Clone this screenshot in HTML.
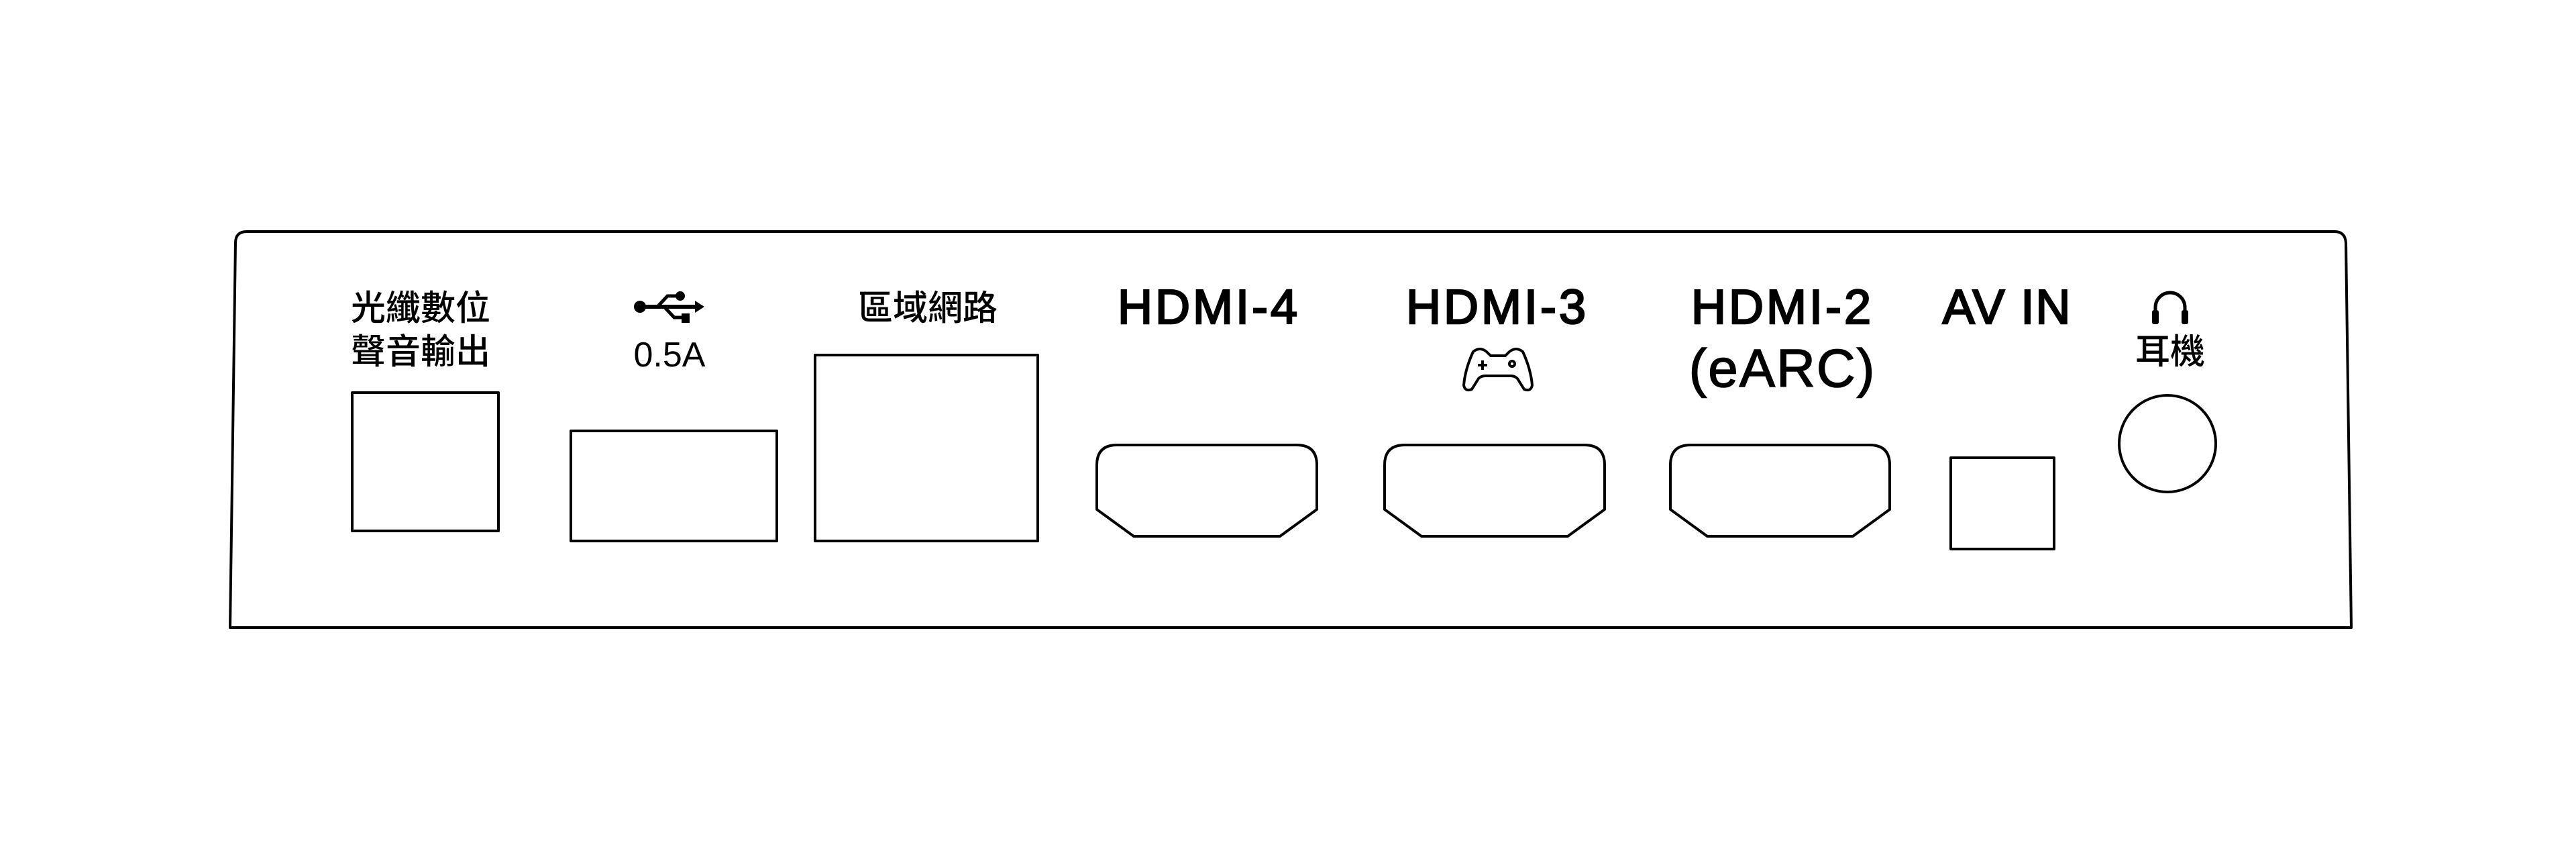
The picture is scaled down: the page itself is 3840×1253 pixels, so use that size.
<!DOCTYPE html>
<html><head><meta charset="utf-8"><style>
html,body{margin:0;padding:0;background:#fff;}
svg{display:block;}
.l{font-family:"Liberation Sans",sans-serif;font-weight:normal;font-size:72px;fill:#000;stroke:#000;stroke-width:2.5px;}
.c{font-family:"Liberation Sans","Noto Sans CJK TC",sans-serif;font-weight:500;font-size:52px;fill:#000;}
</style></head><body>
<svg width="3840" height="1253" viewBox="0 0 3840 1253" xmlns="http://www.w3.org/2000/svg">
<rect width="3840" height="1253" fill="#fff"/>
<g fill="none" stroke="#000" stroke-width="4" stroke-linejoin="round">
<path d="M343,935 L351,362 Q351,345 368,345 L3480,345 Q3496,345 3497,362 L3505,935 Z"/>
<rect x="525" y="585" width="218" height="206"/>
<rect x="851" y="642" width="307" height="164"/>
<rect x="1215" y="529" width="332" height="277"/>
<path d="M1665,663 H1933 Q1963,663 1963,693 V759 L1908,799 H1690 L1635,759 V693 Q1635,663 1665,663 Z"/>
<path d="M2094,663 H2362 Q2392,663 2392,693 V759 L2337,799 H2119 L2064,759 V693 Q2064,663 2094,663 Z"/>
<path d="M2520,663 H2787 Q2817,663 2817,693 V759 L2762,799 H2545 L2490,759 V693 Q2490,663 2520,663 Z"/>
<rect x="2908" y="682" width="154" height="136"/>
<circle cx="3231" cy="661" r="72"/>
</g>
<text class="c" x="627" y="477" text-anchor="middle">光纖數位</text>
<text class="c" x="627" y="542" text-anchor="middle">聲音輸出</text>
<text class="c" x="1383" y="477" text-anchor="middle">區域網路</text>
<text class="c" x="3235" y="542" text-anchor="middle">耳機</text>
<text style="font-family:'Liberation Sans',sans-serif;font-size:52px;fill:#000" x="998" y="546" text-anchor="middle">0.5A</text>
<text class="l" x="1802" y="482" text-anchor="middle" letter-spacing="4">HDMI-4</text>
<text class="l" x="2232" y="482" text-anchor="middle" letter-spacing="4">HDMI-3</text>
<text class="l" x="2657" y="482" text-anchor="middle" letter-spacing="4">HDMI-2</text>
<text style="font-family:'Liberation Sans',sans-serif;font-size:80px;fill:#000;stroke:#000;stroke-width:1.5px" x="2657" y="576" text-anchor="middle" letter-spacing="2">(eARC)</text>
<text class="l" x="2992" y="482" text-anchor="middle" letter-spacing="2">AV IN</text>
<g fill="#000" stroke="#000">
<circle cx="954" cy="457" r="9" stroke="none"/>
<line x1="954" y1="457" x2="1040" y2="457" stroke-width="6"/>
<polygon points="1050,457 1036,448 1036,466" stroke="none"/>
<polyline points="980,457 995,441 1012,441" fill="none" stroke-width="5"/>
<circle cx="1014" cy="441" r="7" stroke="none"/>
<polyline points="990,457 1005,473 1020,473" fill="none" stroke-width="5"/>
<rect x="1016" y="467" width="12" height="14" stroke="none"/>
</g>
<g fill="none" stroke="#000" stroke-width="4" stroke-linejoin="round">
<path d="M2196,524 Q2206,516 2216,524 L2222,530 H2244 L2250,524 Q2260,516 2270,524 Q2282,550 2284,574 Q2282,584 2272,580 L2262,564 Q2258,560 2252,560 H2214 Q2208,560 2204,564 L2194,580 Q2184,584 2182,574 Q2184,550 2196,524 Z"/>
<line x1="2203" y1="544" x2="2217" y2="544"/>
<line x1="2210" y1="537" x2="2210" y2="551"/>
<circle cx="2254" cy="542" r="4"/>
</g>
<g>
<path d="M3213,478 V458 A22,22 0 0 1 3257,458 V478" fill="none" stroke="#000" stroke-width="5"/>
<rect x="3208" y="462" width="10" height="21" rx="3" fill="#000"/>
<rect x="3252" y="462" width="10" height="21" rx="3" fill="#000"/>
</g>
</svg>
</body></html>
